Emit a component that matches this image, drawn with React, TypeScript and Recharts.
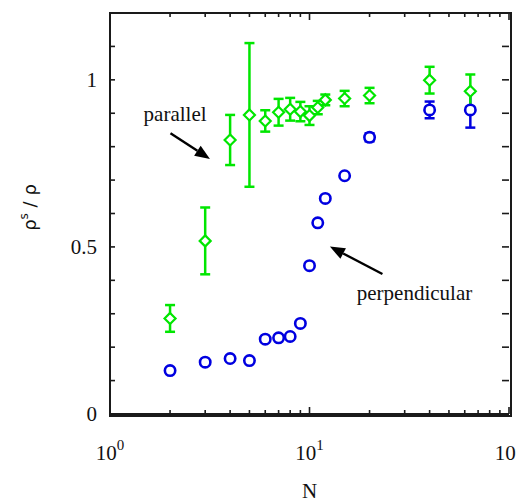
import React from "react";
import {
  ScatterChart,
  Scatter,
  XAxis,
  YAxis,
  ErrorBar,
  ReferenceLine,
  ReferenceDot,
} from "recharts";

const N = [2, 3, 4, 5, 6, 7, 8, 9, 10, 11, 12, 15, 20, 40, 64];
const parallel = [0.286, 0.518, 0.82, 0.895, 0.877, 0.903, 0.912, 0.905, 0.893, 0.917, 0.94, 0.944, 0.953, 0.999, 0.966];
const parallelErr = [0.04, 0.1, 0.075, 0.215, 0.032, 0.04, 0.034, 0.029, 0.028, 0.02, 0.016, 0.023, 0.023, 0.04, 0.05];
const perpendicular = [0.13, 0.155, 0.166, 0.16, 0.224, 0.228, 0.232, 0.271, 0.444, 0.572, 0.645, 0.713, 0.828, 0.91, 0.91];
const perpendicularErr = [0, 0, 0, 0, 0, 0, 0, 0, 0, 0, 0, 0, 0.012, 0.025, 0.053];

const xTicks = [1, 2, 3, 4, 5, 6, 7, 8, 9, 10, 20, 30, 40, 50, 60, 70, 80, 90, 100];
const xMajor = [1, 10, 100];
const yTicks = [0, 0.1, 0.2, 0.3, 0.4, 0.5, 0.6, 0.7, 0.8, 0.9, 1.0, 1.1, 1.2];
const yLabels: Record<string, string> = { "0": "0", "0.5": "0.5", "1": "1" };

const W = 516;
const H = 494;
const M = { top: 5, right: 15, bottom: 0, left: 0 };
const Y_AXIS_W = 102;
const X_AXIS_H = 88;
const PLOT_TOP = M.top;
const PLOT_RIGHT = W - M.right;
const PLOT_LEFT = M.left + Y_AXIS_W;
const PLOT_BOTTOM = H - M.bottom - X_AXIS_H;

const GREEN = "#00e600";
const BLUE = "#0000e0";
const AXIS = "#1a1a1a";
const SERIF = { fontFamily: "'Liberation Serif', 'Times New Roman', serif" };

const parallelData = N.map((n, i) => ({ n, v: parallel[i], e: parallelErr[i] }));
const perpData = N.map((n, i) => ({ n, v: perpendicular[i], e: perpendicularErr[i] }));
const perpErrData = perpData.filter((d) => d.e > 0);

const isMajorX = (v: number) => xMajor.includes(v);

const BottomTick = (props: any) => {
  const { x, y, payload } = props;
  const v = payload.value;
  const major = isMajorX(v);
  const len = major ? 7 : 4;
  return (
    <g>
      <line x1={x} y1={y} x2={x} y2={y - len} stroke={AXIS} strokeWidth={1.6} />
      <line x1={x} y1={PLOT_TOP} x2={x} y2={PLOT_TOP + len} stroke={AXIS} strokeWidth={1.6} />
      {major && (
        <text x={x} y={y + 46} textAnchor="middle" style={SERIF} fontSize={21} fill="#111">
          <tspan>10</tspan>
          <tspan dy={-10} fontSize={15}>{String(Math.round(Math.log10(v)))}</tspan>
        </text>
      )}
    </g>
  );
};

const LeftTick = (props: any) => {
  const { x, y, payload } = props;
  const key = String(Math.round(payload.value * 10) / 10);
  const label = yLabels[key];
  return (
    <g>
      <line x1={x} y1={y} x2={x + 5} y2={y} stroke={AXIS} strokeWidth={1.6} />
      <line x1={PLOT_RIGHT} y1={y} x2={PLOT_RIGHT - 7} y2={y} stroke={AXIS} strokeWidth={1.6} />
      {label !== undefined && (
        <text x={x - 13} y={y + 7} textAnchor="end" style={SERIF} fontSize={21} fill="#111">
          {label}
        </text>
      )}
    </g>
  );
};

const Diamond = (props: any) => {
  const { cx, cy } = props;
  const s = 5.5;
  return (
    <path
      d={`M${cx},${cy - s} L${cx + s},${cy} L${cx},${cy + s} L${cx - s},${cy} Z`}
      fill="#fff"
      stroke={GREEN}
      strokeWidth={2.2}
    />
  );
};

const Ring = (props: any) => {
  const { cx, cy } = props;
  return <circle cx={cx} cy={cy} r={5.2} fill="#fff" stroke={BLUE} strokeWidth={2.6} />;
};

const Nothing = () => <g />;

const Arrow = (props: any) => {
  const { x1, y1, x2, y2 } = props;
  const dx = x2 - x1;
  const dy = y2 - y1;
  const len = Math.sqrt(dx * dx + dy * dy);
  const ux = dx / len;
  const uy = dy / len;
  const hl = 15;
  const hw = 6;
  const bx = x2 - ux * hl;
  const by = y2 - uy * hl;
  return (
    <g>
      <line x1={x1} y1={y1} x2={bx} y2={by} stroke="#000" strokeWidth={2.4} />
      <path
        d={`M${x2},${y2} L${bx - uy * hw},${by + ux * hw} L${bx + uy * hw},${by - ux * hw} Z`}
        fill="#000"
      />
    </g>
  );
};

const makeText = (txt: string) => (props: any) => {
  const { cx, cy } = props;
  return (
    <text x={cx} y={cy} textAnchor="middle" style={SERIF} fontSize={21} fill="#111">
      {txt}
    </text>
  );
};

const XLabel = (props: any) => {
  const { viewBox } = props;
  return (
    <text
      x={viewBox.x + viewBox.width / 2}
      y={viewBox.y + 84}
      textAnchor="middle"
      style={SERIF}
      fontSize={21}
      fill="#111"
    >
      N
    </text>
  );
};

const YLabel = (props: any) => {
  const { viewBox } = props;
  const cx = 28;
  const cy = viewBox.y + viewBox.height / 2 - 6;
  return (
    <text
      x={cx}
      y={cy}
      transform={`rotate(-90 ${cx} ${cy})`}
      textAnchor="middle"
      style={{ fontFamily: "'DejaVu Sans', sans-serif" }}
      fontSize={18}
      fill="#111"
    >
      <tspan>ρ</tspan>
      <tspan dy={-8} fontSize={12}>s</tspan>
      <tspan dy={8}> / ρ</tspan>
    </text>
  );
};

export default function App() {
  return (
    <div style={{ position: "relative", width: W, height: H }}>
      <ScatterChart width={W} height={H} margin={M}>
        <XAxis
          xAxisId="b"
          dataKey="n"
          type="number"
          scale="log"
          domain={[1, 100]}
          ticks={xTicks}
          interval={0}
          allowDataOverflow
          height={X_AXIS_H}
          tickSize={0}
          tickMargin={0}
          tickLine={false}
          axisLine={{ stroke: AXIS, strokeWidth: 2 }}
          tick={<BottomTick />}
          label={<XLabel />}
        />
        <YAxis
          yAxisId="l"
          dataKey="v"
          type="number"
          domain={[0, 1.2]}
          ticks={yTicks}
          interval={0}
          allowDataOverflow
          width={Y_AXIS_W}
          tickSize={0}
          tickMargin={0}
          tickLine={false}
          axisLine={{ stroke: AXIS, strokeWidth: 2 }}
          tick={<LeftTick />}
          label={<YLabel />}
        />

        <Scatter xAxisId="b" yAxisId="l" data={perpErrData} dataKey="v" shape={<Nothing />} isAnimationActive={false}>
          <ErrorBar dataKey="e" direction="y" width={5} stroke={BLUE} strokeWidth={2.5} isAnimationActive={false} />
        </Scatter>
        <Scatter xAxisId="b" yAxisId="l" data={perpData} dataKey="v" shape={<Ring />} isAnimationActive={false} />
        <Scatter xAxisId="b" yAxisId="l" data={parallelData} dataKey="v" shape={<Nothing />} isAnimationActive={false}>
          <ErrorBar dataKey="e" direction="y" width={5} stroke={GREEN} strokeWidth={2.5} isAnimationActive={false} />
        </Scatter>
        <Scatter xAxisId="b" yAxisId="l" data={parallelData} dataKey="v" shape={<Diamond />} isAnimationActive={false} />

        <ReferenceLine
          xAxisId="b"
          yAxisId="l"
          segment={[{ x: 2.01, y: 0.84 }, { x: 3.17, y: 0.763 }]}
          shape={(p: any) => <Arrow {...p} />}
          ifOverflow="visible"
        />
        <ReferenceLine
          xAxisId="b"
          yAxisId="l"
          segment={[{ x: 23.2, y: 0.419 }, { x: 12.65, y: 0.501 }]}
          shape={(p: any) => <Arrow {...p} />}
          ifOverflow="visible"
        />
        <ReferenceDot xAxisId="b" yAxisId="l" x={2.12} y={0.878} r={0} shape={makeText("parallel")} ifOverflow="visible" />
        <ReferenceDot xAxisId="b" yAxisId="l" x={33.6} y={0.341} r={0} shape={makeText("perpendicular")} ifOverflow="visible" />
      </ScatterChart>
      <div
        style={{
          position: "absolute",
          left: PLOT_LEFT - 1,
          top: PLOT_TOP - 1,
          width: PLOT_RIGHT - PLOT_LEFT,
          height: PLOT_BOTTOM - PLOT_TOP,
          border: `2px solid ${AXIS}`,
          pointerEvents: "none",
        }}
      />
    </div>
  );
}
